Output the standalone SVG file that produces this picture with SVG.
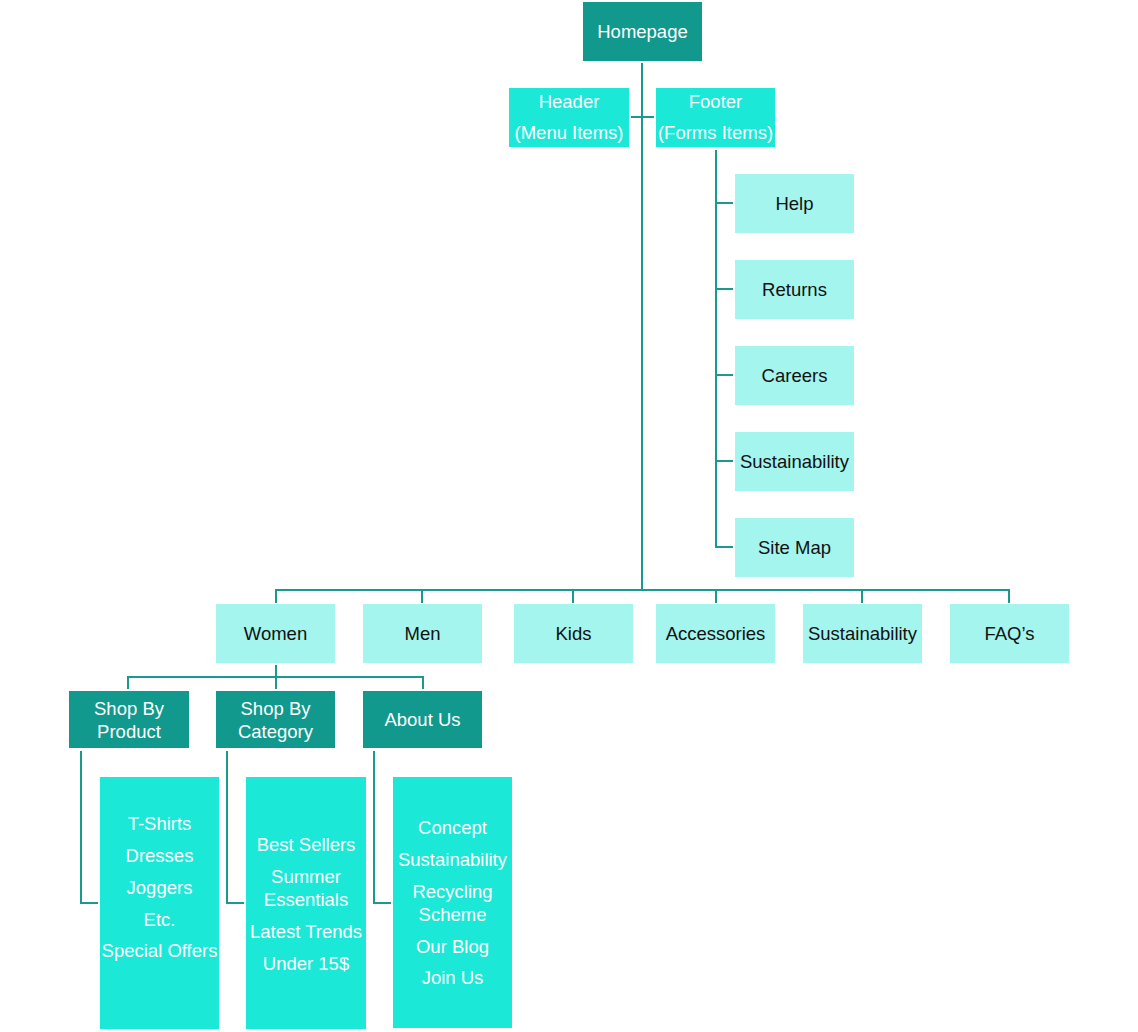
<svg xmlns="http://www.w3.org/2000/svg" width="1138" height="1032" viewBox="0 0 1138 1032">
<style>
.dark{fill:#12998D}
.light{fill:#A3F5EE}
.bright{fill:#1CE8D8}
text{font-family:"Liberation Sans",Arial,sans-serif;font-size:18.5px;text-anchor:middle;dominant-baseline:central}
.w{fill:#FFFFFF}
.k{fill:#111111}
.conn{fill:none;stroke:#1A9A8E;stroke-width:2}
</style>
<rect width="1138" height="1032" fill="#FFFFFF"/>
<g id="connectors" class="conn">
<path d="M642 63V590"/>
<path d="M631 117H654"/>
<path d="M716 150V547H733"/>
<path d="M716 203H733M716 289H733M716 375H733M716 461H733"/>
<path d="M276 603V590H1009V603"/>
<path d="M422 590V603M573 590V603M716 590V603M862 590V603"/>
<path d="M276 665V677"/>
<path d="M128 689V677H423V689"/>
<path d="M276 677V689"/>
<path d="M81 751V903H98"/>
<path d="M227 751V903H244"/>
<path d="M374 751V903H391"/>
</g>
<g id="homepage"><rect class="dark" x="583" y="2" width="119" height="59"/><text class="w" x="642.5" y="31">Homepage</text></g>
<g id="header"><rect class="bright" x="509" y="88" width="120" height="59"/><text class="w" x="569" y="101">Header</text><text class="w" x="569" y="132">(Menu Items)</text></g>
<g id="footer"><rect class="bright" x="656" y="88" width="119" height="59"/><text class="w" x="715.5" y="101">Footer</text><text class="w" x="715.5" y="132">(Forms Items)</text></g>
<g id="help"><rect class="light" x="735" y="174" width="119" height="59"/><text class="k" x="794.5" y="203">Help</text></g>
<g id="returns"><rect class="light" x="735" y="260" width="119" height="59"/><text class="k" x="794.5" y="289">Returns</text></g>
<g id="careers"><rect class="light" x="735" y="346" width="119" height="59"/><text class="k" x="794.5" y="375">Careers</text></g>
<g id="footer-sustainability"><rect class="light" x="735" y="432" width="119" height="59"/><text class="k" x="794.5" y="461">Sustainability</text></g>
<g id="sitemap"><rect class="light" x="735" y="518" width="119" height="59"/><text class="k" x="794.5" y="547">Site Map</text></g>
<g id="women"><rect class="light" x="216" y="604" width="119" height="59"/><text class="k" x="275.5" y="633">Women</text></g>
<g id="men"><rect class="light" x="363" y="604" width="119" height="59"/><text class="k" x="422.5" y="633">Men</text></g>
<g id="kids"><rect class="light" x="514" y="604" width="119" height="59"/><text class="k" x="573.5" y="633">Kids</text></g>
<g id="accessories"><rect class="light" x="656" y="604" width="119" height="59"/><text class="k" x="715.5" y="633">Accessories</text></g>
<g id="sustainability"><rect class="light" x="803" y="604" width="119" height="59"/><text class="k" x="862.5" y="633">Sustainability</text></g>
<g id="faqs"><rect class="light" x="950" y="604" width="119" height="59"/><text class="k" x="1009.5" y="633">FAQ’s</text></g>
<g id="shop-by-product"><rect class="dark" x="69" y="691" width="120" height="57"/><text class="w" x="129" y="708">Shop By</text><text class="w" x="129" y="731">Product</text></g>
<g id="shop-by-category"><rect class="dark" x="216" y="691" width="119" height="57"/><text class="w" x="275.5" y="708">Shop By</text><text class="w" x="275.5" y="731">Category</text></g>
<g id="about-us"><rect class="dark" x="363" y="691" width="119" height="57"/><text class="w" x="422.5" y="719">About Us</text></g>
<g id="product-list"><rect class="bright" x="100" y="777" width="119" height="252"/>
<text class="w" x="159.5" y="823">T-Shirts</text><text class="w" x="159.5" y="855">Dresses</text><text class="w" x="159.5" y="887">Joggers</text><text class="w" x="159.5" y="919">Etc.</text><text class="w" x="159.5" y="950">Special Offers</text></g>
<g id="category-list"><rect class="bright" x="246" y="777" width="120" height="252"/>
<text class="w" x="306" y="844">Best Sellers</text><text class="w" x="306" y="876">Summer</text><text class="w" x="306" y="899">Essentials</text><text class="w" x="306" y="931">Latest Trends</text><text class="w" x="306" y="963">Under 15$</text></g>
<g id="about-list"><rect class="bright" x="393" y="777" width="119" height="251"/>
<text class="w" x="452.5" y="827">Concept</text><text class="w" x="452.5" y="859">Sustainability</text><text class="w" x="452.5" y="891">Recycling</text><text class="w" x="452.5" y="914">Scheme</text><text class="w" x="452.5" y="946">Our Blog</text><text class="w" x="452.5" y="977">Join Us</text></g>
</svg>
